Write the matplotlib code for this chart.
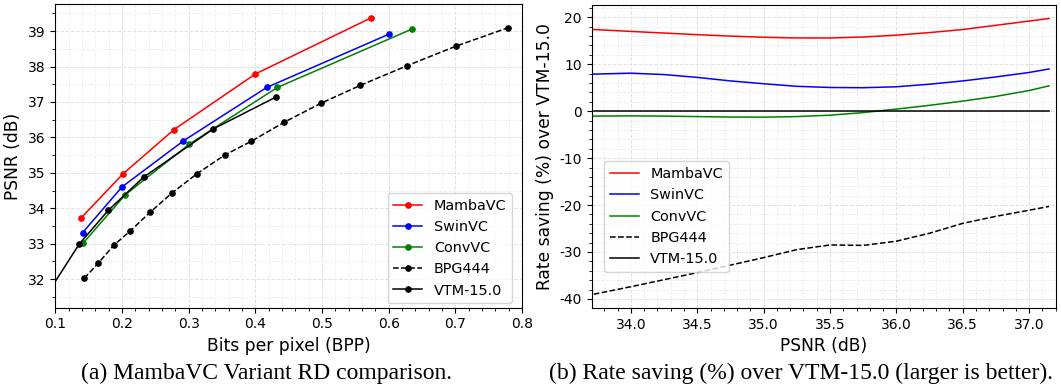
import numpy as np
import matplotlib
matplotlib.use("Agg")
import matplotlib.pyplot as plt
from matplotlib.ticker import AutoMinorLocator

plt.rcParams['axes.unicode_minus'] = False

tick_fs = 10
label_fs = 12.3
legend_fs = 10.4
caption_fs = 17

# ---- (a) RD curves --------------------------------------------------------
mamba_bpp = [0.139, 0.201, 0.278, 0.400, 0.573]
mamba_psnr = [33.73, 34.96, 36.22, 37.79, 39.37]

swin_bpp = [0.141, 0.200, 0.292, 0.417, 0.601]
swin_psnr = [33.31, 34.60, 35.90, 37.41, 38.92]

conv_bpp = [0.142, 0.205, 0.301, 0.433, 0.635]
conv_psnr = [33.02, 34.38, 35.81, 37.41, 39.06]

bpg_bpp = [0.1435, 0.164, 0.1876, 0.2125, 0.2425, 0.275, 0.313, 0.354, 0.394,
           0.4435, 0.498, 0.5575, 0.627, 0.7015, 0.7795]
bpg_psnr = [32.02, 32.44, 32.95, 33.36, 33.89, 34.43, 34.98, 35.50, 35.89,
            36.43, 36.96, 37.47, 38.02, 38.58, 39.10]

vtm_bpp = [0.088, 0.136, 0.1795, 0.2326, 0.337, 0.431]
vtm_psnr = [31.58, 32.99, 33.94, 34.88, 36.24, 37.14]

# ---- (b) rate saving over VTM ---------------------------------------------
psnr_grid = [33.72, 34.0, 34.25, 34.5, 34.75, 35.0, 35.25, 35.5, 35.75,
             36.0, 36.25, 36.5, 36.75, 37.0, 37.15]
save_mamba = [17.4, 17.0, 16.65, 16.3, 16.0, 15.75, 15.6, 15.6, 15.8,
              16.2, 16.75, 17.4, 18.3, 19.2, 19.75]
save_swin = [7.9, 8.1, 7.8, 7.2, 6.45, 5.85, 5.3, 5.05, 5.0,
             5.2, 5.75, 6.45, 7.3, 8.25, 9.0]
save_conv = [-1.05, -1.0, -1.05, -1.15, -1.25, -1.27, -1.15, -0.85, -0.3,
             0.45, 1.25, 2.15, 3.15, 4.4, 5.4]
save_bpg = [-39.0, -37.4, -35.9, -34.4, -32.8, -31.2, -29.5, -28.5, -28.6,
            -27.7, -26.0, -23.9, -22.4, -21.1, -20.3]
save_vtm = [0.0] * len(psnr_grid)

labels = ['MambaVC', 'SwinVC', 'ConvVC', 'BPG444', 'VTM-15.0']
colors = ['red', 'blue', 'green', 'black', 'black']
styles = ['-', '-', '-', '--', '-']


def style_axes(ax, xminor, yminor):
    ax.xaxis.set_minor_locator(AutoMinorLocator(xminor))
    ax.yaxis.set_minor_locator(AutoMinorLocator(yminor))
    ax.grid(True, which='major', linestyle='--', color='#e2e2e2', linewidth=0.7)
    ax.grid(True, which='minor', linestyle='--', color='#ededed', linewidth=0.6)
    ax.set_axisbelow(True)
    ax.tick_params(labelsize=tick_fs)


fig = plt.figure(figsize=(10.61, 3.89), dpi=100)

ax1 = fig.add_axes([0.0521, 0.2090, 0.4399, 0.7800])
rd = [(mamba_bpp, mamba_psnr), (swin_bpp, swin_psnr), (conv_bpp, conv_psnr),
      (bpg_bpp, bpg_psnr), (vtm_bpp, vtm_psnr)]
for (x, y), lab, c, ls in zip(rd, labels, colors, styles):
    ax1.plot(x, y, linestyle=ls, marker='o', color=c, label=lab,
             linewidth=1.1, markersize=3.8)
ax1.set_xlim(0.1, 0.8)
ax1.set_xlabel('Bits per pixel (BPP)', fontsize=label_fs)
ax1.set_ylabel('PSNR (dB)', fontsize=label_fs)
style_axes(ax1, 5, 2)
ax1.legend(loc='lower right', bbox_to_anchor=(0.979, 0.0145), borderaxespad=0,
           fontsize=legend_fs)

ax2 = fig.add_axes([0.5577, 0.2082, 0.4373, 0.7797])
saves = [save_mamba, save_swin, save_conv, save_bpg, save_vtm]
for y, lab, c, ls in zip(saves, labels, colors, styles):
    ax2.plot(psnr_grid, y, linestyle=ls, color=c, label=lab, linewidth=1.1)
ax2.set_xlim(33.705, 37.2)
ax2.set_xlabel('PSNR (dB)', fontsize=label_fs)
ax2.set_ylabel('Rate saving (%) over VTM-15.0', fontsize=label_fs)
style_axes(ax2, 5, 5)
ax2.legend(loc='lower left', bbox_to_anchor=(0.0265, 0.119), borderaxespad=0,
           fontsize=legend_fs)

fig.text(0.2515, 0.041, '(a) MambaVC Variant RD comparison.',
         family='Liberation Serif', fontsize=caption_fs, ha='center', va='center')
fig.text(0.7545, 0.041, '(b) Rate saving (%) over VTM-15.0 (larger is better).',
         family='Liberation Serif', fontsize=caption_fs, ha='center', va='center')

fig.savefig('out.png', dpi=100)
